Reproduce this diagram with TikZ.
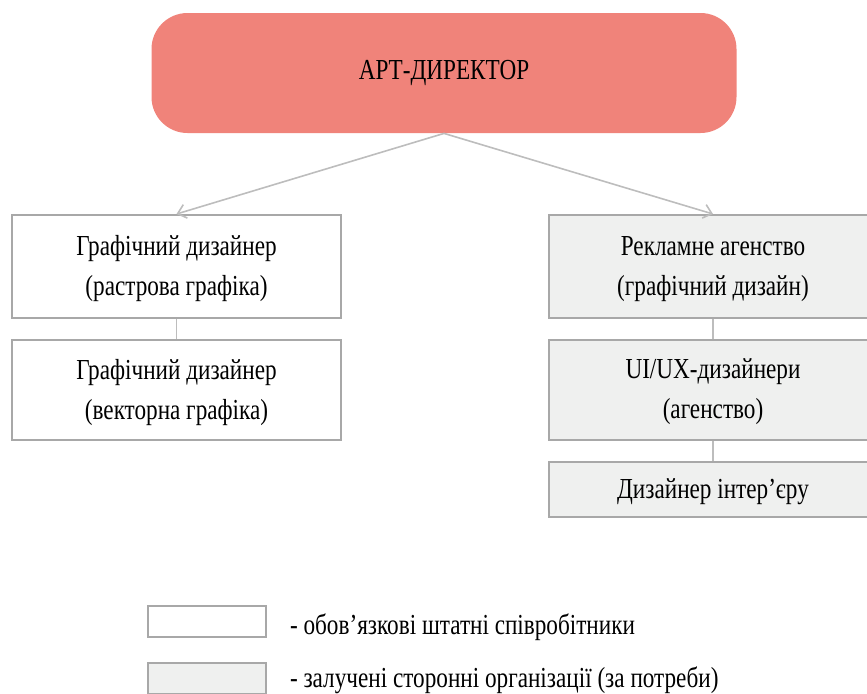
\documentclass[tikz,border=0pt]{standalone}
\usepackage{fontspec}
\setmainfont{Liberation Serif}[FakeStretch=0.8]
\usepackage{xcolor}
\usetikzlibrary{arrows.meta,positioning}

\definecolor{headred}{HTML}{F0837A}
\definecolor{extgray}{HTML}{EFF0EF}
\definecolor{edgegray}{HTML}{A8A8A8}
\definecolor{linegray}{HTML}{BDBDBD}

\begin{document}
\begin{tikzpicture}[
					x=0.5pt, y=-0.5pt,
					font=\fontsize{14.5}{20}\selectfont,
					head/.style={
						rectangle, rounded corners=18pt,
						fill=headred, draw=none,
						minimum width=292.5pt, minimum height=60pt
					},
					staff/.style={
						rectangle, draw=edgegray, fill=white, line width=1pt,
						minimum width=164.5pt, minimum height=51.5pt,
						align=center, inner sep=2pt, text depth=1pt
					},
					ext/.style={staff, fill=extgray},
					arr/.style={-{Straight Barb[length=4pt,width=7pt]}, linegray, line width=0.8pt},
					link/.style={linegray, line width=0.8pt},
					legbox/.style={rectangle, draw=edgegray, line width=1pt,
						minimum width=59pt, minimum height=15.5pt}
					]
					\useasboundingbox (0,0) rectangle (867,693);
					%% --- head ---
					\node[head] (dir) at (444,73) {АРТ-ДИРЕКТОР};
					
					%% --- staff column ---
					\node[staff] (gd1) at (176.5,266.5) {Графічний дизайнер\\(растрова графіка)};
					\node[staff, minimum height=50pt, below=10pt of gd1] (gd2) {Графічний дизайнер\\(векторна графіка)};
					
					%% --- outsourced column ---
					\node[ext] (ag1) at (713,266.5) {Рекламне агенство\\(графічний дизайн)};
					\node[ext, minimum height=50pt, below=10pt of ag1] (ag2) {UI/UX-дизайнери\\(агенство)};
					\node[ext, minimum height=27.5pt, below=10pt of ag2] (int) {Дизайнер інтер’єру};
					
					\draw[arr] (dir.south) -- (gd1.north);
					\draw[arr] (dir.south) -- (ag1.north);
					\draw[link] (gd1) -- (gd2);
					\draw[link] (ag1) -- (ag2); \draw[link] (ag2) -- (int);
					
					%% --- legend ---
					\node[legbox, fill=white] (lg1) at (207,621.5) {};
					\node[legbox, fill=extgray, below=12pt of lg1] (lg2) {};
					\node[right=8pt of lg1, yshift=-3pt] (lt1) {- обов’язкові штатні співробітники};
					\node[right=8pt of lg2, yshift=-1pt] (lt2) {- залучені сторонні організації (за потреби)};
				\end{tikzpicture}
\end{document}
